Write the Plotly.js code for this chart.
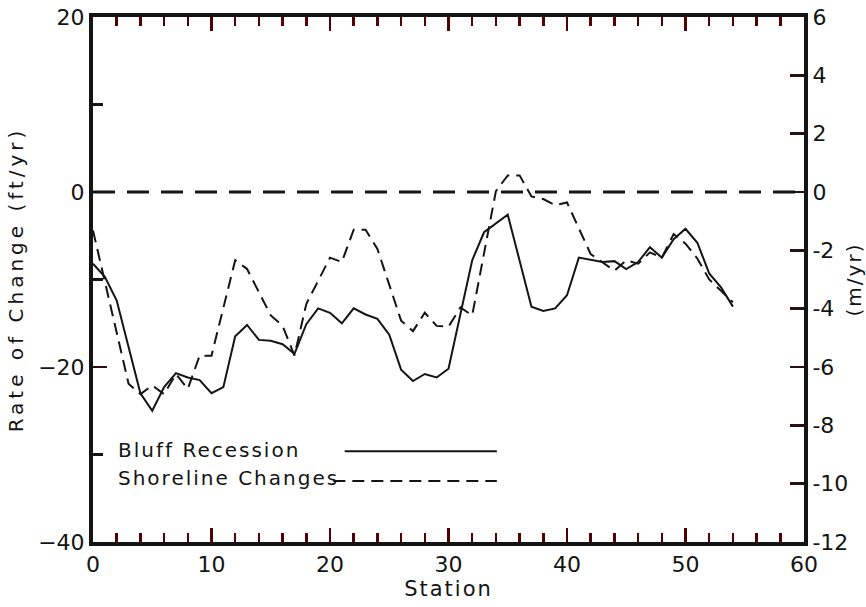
<!DOCTYPE html>
<html>
<head>
<meta charset="utf-8">
<script src="https://cdn.plot.ly/plotly-3.0.1.min.js"></script>
<style>
  html, body { margin: 0; padding: 0; background: #fff; }
  #chart { width: 866px; height: 607px; }
  .xtitle, .y2title, .annotation-text { letter-spacing: 2px; }
  .ytitle { letter-spacing: 4px; }
</style>
</head>
<body>
<div id="chart"></div>
<script>
// Station numbers and rates of change (ft/yr)
const bluffStation = [0,1,2,4,5,6,7,8,9,10,11,12,13,14,15,16,17,18,19,20,21,22,23,24,25,26,27,28,29,30,32,33,35,37,38,39,40,41,43,44,45,46,47,48,49,50,51,52,53,54];
const bluffRate = [-8.2,-9.7,-12.4,-23,-25,-22.3,-20.7,-21.2,-21.5,-23,-22.3,-16.5,-15.2,-16.9,-17,-17.4,-18.5,-15.1,-13.3,-13.8,-15,-13.3,-14,-14.5,-16.3,-20.3,-21.6,-20.8,-21.2,-20.2,-7.8,-4.6,-2.6,-13.1,-13.6,-13.3,-11.8,-7.5,-8,-7.9,-8.8,-8,-6.3,-7.5,-5.4,-4.2,-5.8,-9.3,-10.9,-13.1];

const shoreStation = [0,3,4,5,6,7,8,9,10,12,13,15,16,17,18,20,21,22,23,24,26,27,28,29,30,31,32,34,35,36,37,38,39,40,42,44,45,46,47,48,49,50,51,52,53,54];
const shoreRate = [-4.4,-21.9,-23.1,-22.1,-23.1,-20.8,-22.5,-18.7,-18.7,-7.8,-8.8,-14.1,-15.3,-18.7,-12.8,-7.5,-8,-4.3,-4.3,-6.5,-14.7,-15.9,-13.8,-15.3,-15.4,-13.2,-14.1,0.1,1.9,1.9,-0.5,-0.8,-1.5,-1.2,-7.1,-9,-7.8,-8.2,-6.9,-7.5,-4.8,-5.9,-7.6,-10,-11.3,-12.6];

const seriesNames = ["Bluff Recession", "Shoreline Changes"];

// Right axis (m/yr) ticks
const meterTickVals = [6,4,2,0,-2,-4,-6,-8,-10,-12];
const meterTickText = ["6","4","2","0","-2","-4","-6","-8","-10","-12"];

const ink = '#141414';
const tickInk = '#2a1010';
const fontFam = 'DejaVu Sans, Liberation Sans, sans-serif';

const traces = [
  { x: bluffStation, y: bluffRate, type: 'scatter', mode: 'lines', name: seriesNames[0],
    line: { color: ink, width: 2 }, showlegend: false },
  { x: shoreStation, y: shoreRate, type: 'scatter', mode: 'lines', name: seriesNames[1],
    line: { color: ink, width: 2, dash: '12px,7px' }, showlegend: false },
  { x: [], y: [], type: 'scatter', mode: 'lines', yaxis: 'y2', showlegend: false, hoverinfo: 'skip' }
];

const layout = {
  width: 866, height: 607,
  margin: { l: 93, r: 62, t: 17, b: 65 },
  paper_bgcolor: '#fff', plot_bgcolor: '#fff',
  showlegend: false,
  font: { family: fontFam, size: 22, color: ink },
  xaxis: {
    range: [0, 60], dtick: 10, tick0: 0,
    ticks: 'inside', ticklen: 14, tickwidth: 2.5, tickcolor: '#500',
    showline: true, linewidth: 4, linecolor: ink, mirror: 'ticks',
    showgrid: false, zeroline: false,
    minor: { dtick: 2, ticks: 'inside', ticklen: 9, tickwidth: 2.5, tickcolor: '#500', showgrid: false },
    tickfont: { size: 22 },
    title: { text: 'Station', standoff: 4, font: { size: 21 } }
  },
  yaxis: {
    range: [-40, 20], dtick: 20, tick0: 0,
    ticks: 'inside', ticklen: 14, tickwidth: 2.5, tickcolor: tickInk,
    showline: true, linewidth: 4, linecolor: ink, mirror: true,
    showgrid: false, zeroline: false,
    minor: { dtick: 10, ticks: 'inside', ticklen: 10, tickwidth: 2.5, tickcolor: ink, showgrid: false },
    tickfont: { size: 22 },
    title: { text: 'Rate of Change (ft/yr)', standoff: 10, font: { size: 20 } }
  },
  yaxis2: {
    overlaying: 'y', side: 'right', range: [-12, 6],
    tickmode: 'array', tickvals: meterTickVals, ticktext: meterTickText,
    ticks: 'inside', ticklen: 14, tickwidth: 2.5, tickcolor: tickInk,
    showline: true, linewidth: 4, linecolor: ink,
    showgrid: false, zeroline: false,
    tickfont: { size: 22 },
    title: { text: '(m/yr)', standoff: 2, font: { size: 20 } }
  },
  shapes: [
    { type: 'line', xref: 'paper', x0: 0, x1: 1, yref: 'y', y0: 0, y1: 0,
      line: { color: ink, width: 3, dash: '22px,12px' } },
    { type: 'line', xref: 'paper', x0: 0.354, x1: 0.568, yref: 'paper', y0: 0.173, y1: 0.173,
      line: { color: ink, width: 2 } },
    { type: 'line', xref: 'paper', x0: 0.338, x1: 0.568, yref: 'paper', y0: 0.116, y1: 0.116,
      line: { color: ink, width: 2, dash: '12px,7px' } }
  ],
  annotations: [
    { text: seriesNames[0], xref: 'paper', yref: 'paper', x: 0.032, y: 0.175,
      xanchor: 'left', yanchor: 'middle', showarrow: false, font: { size: 20, color: ink } },
    { text: seriesNames[1], xref: 'paper', yref: 'paper', x: 0.032, y: 0.122,
      xanchor: 'left', yanchor: 'middle', showarrow: false, font: { size: 20, color: ink } }
  ]
};

Plotly.newPlot('chart', traces, layout, { displayModeBar: false, staticPlot: true });
</script>
</body>
</html>
